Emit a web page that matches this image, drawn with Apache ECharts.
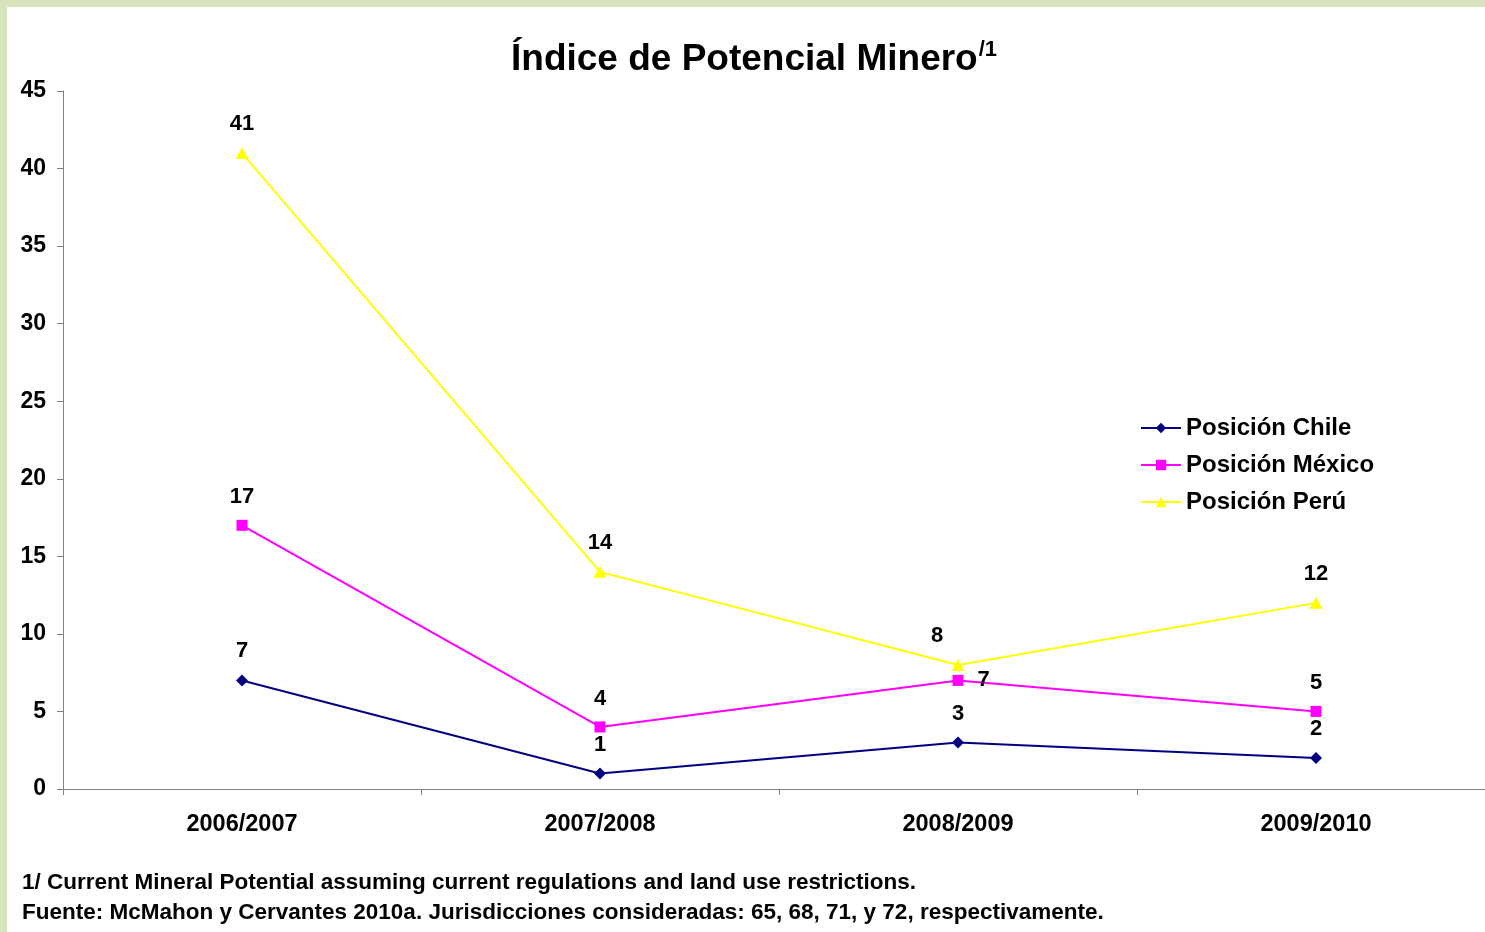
<!DOCTYPE html>
<html>
<head>
<meta charset="utf-8">
<style>
  html, body { margin: 0; padding: 0; background: #d8e4bc; width: 1485px; height: 932px; overflow: hidden; }
  #chart { position: absolute; left: 7px; top: 7px; width: 1500px; height: 925px; background: #fff; }
</style>
<script src="https://cdn.jsdelivr.net/npm/echarts@6/dist/echarts.min.js"></script>
</head>
<body>
<div id="chart"></div>
<script>
const categories = ['2006/2007', '2007/2008', '2008/2009', '2009/2010']
const chile = [7, 1, 3, 2]
const mexico = [17, 4, 7, 5]
const peru = [41, 14, 8, 12]
const yTicks = [0, 5, 10, 15, 20, 25, 30, 35, 40, 45]

const font = 'Liberation Sans, Arial, sans-serif'

// etiquetas que no van arriba del punto
const labelOverrides = {
  mexico: { 2: { position: 'right', distance: 14, offset: [0, 0] } },
  peru: { 2: { position: 'top', offset: [-21, 0] } }
}

const buildData = (values, key) => values.map((v, i) => {
  const o = labelOverrides[key] && labelOverrides[key][i]
  return o ? { value: v, label: o } : v
})

const baseLabel = {
  show: true,
  position: 'top',
  distance: 12,
  color: '#000',
  fontFamily: font,
  fontWeight: 'bold',
  fontSize: 22
}

const chart = echarts.init(document.getElementById('chart'))

chart.setOption({
  animation: false,
  backgroundColor: '#fff',
  title: {
    text: '{a|Índice de Potencial Minero}{b|/1}',
    left: 499,
    top: 27,
    textStyle: {
      rich: {
        a: { fontFamily: font, fontWeight: 'bold', fontSize: 37, color: '#000' },
        b: { fontFamily: font, fontWeight: 'bold', fontSize: 22, color: '#000', verticalAlign: 'top', padding: [0, 0, 20, 1] }
      }
    }
  },
  legend: {
    orient: 'vertical',
    left: 1128,
    top: 404,
    itemWidth: 40,
    itemHeight: 13,
    itemGap: 13,
    textStyle: { fontFamily: font, fontWeight: 'bold', fontSize: 24, color: '#000' },
    data: ['Posición Chile', 'Posición México', 'Posición Perú']
  },
  grid: { left: 56, top: 84, width: 1432, height: 698, containLabel: false },
  xAxis: {
    type: 'category',
    data: categories,
    boundaryGap: true,
    axisLine: { lineStyle: { color: '#808080', width: 1 } },
    axisTick: { show: true, length: 6, lineStyle: { color: '#808080' } },
    axisLabel: { margin: 24, color: '#000', fontFamily: font, fontWeight: 'bold', fontSize: 23.5 },
    splitLine: { show: false }
  },
  yAxis: {
    type: 'value',
    min: yTicks[0],
    max: yTicks[yTicks.length - 1],
    interval: 5,
    axisLine: { show: true, lineStyle: { color: '#808080', width: 1 } },
    axisTick: { show: true, length: 6, lineStyle: { color: '#808080' } },
    axisLabel: { margin: 17, color: '#000', fontFamily: font, fontWeight: 'bold', fontSize: 23 },
    splitLine: { show: false }
  },
  series: [
    {
      name: 'Posición Chile',
      type: 'line',
      data: buildData(chile, 'chile'),
      symbol: 'diamond',
      symbolSize: 12,
      color: '#000080',
      lineStyle: { color: '#000080', width: 2 },
      itemStyle: { color: '#000080' },
      label: baseLabel
    },
    {
      name: 'Posición México',
      type: 'line',
      data: buildData(mexico, 'mexico'),
      symbol: 'rect',
      symbolSize: 11,
      color: '#ff00ff',
      lineStyle: { color: '#ff00ff', width: 2 },
      itemStyle: { color: '#ff00ff' },
      label: baseLabel
    },
    {
      name: 'Posición Perú',
      type: 'line',
      data: buildData(peru, 'peru'),
      symbol: 'triangle',
      symbolSize: [13, 12],
      color: '#ffff00',
      lineStyle: { color: '#ffff00', width: 2 },
      itemStyle: { color: '#ffff00' },
      label: baseLabel
    }
  ],
  graphic: [
    {
      type: 'text',
      left: 15,
      top: 864,
      style: {
        text: '1/ Current Mineral Potential assuming current regulations and land use restrictions.',
        fontFamily: font, fontWeight: 'bold', fontSize: 22.5, fill: '#000'
      }
    },
    {
      type: 'text',
      left: 15,
      top: 894,
      style: {
        text: 'Fuente: McMahon y Cervantes 2010a. Jurisdicciones consideradas: 65, 68, 71, y 72, respectivamente.',
        fontFamily: font, fontWeight: 'bold', fontSize: 22.5, fill: '#000'
      }
    }
  ]
})

window.addEventListener('resize', () => chart.resize())
</script>
</body>
</html>
